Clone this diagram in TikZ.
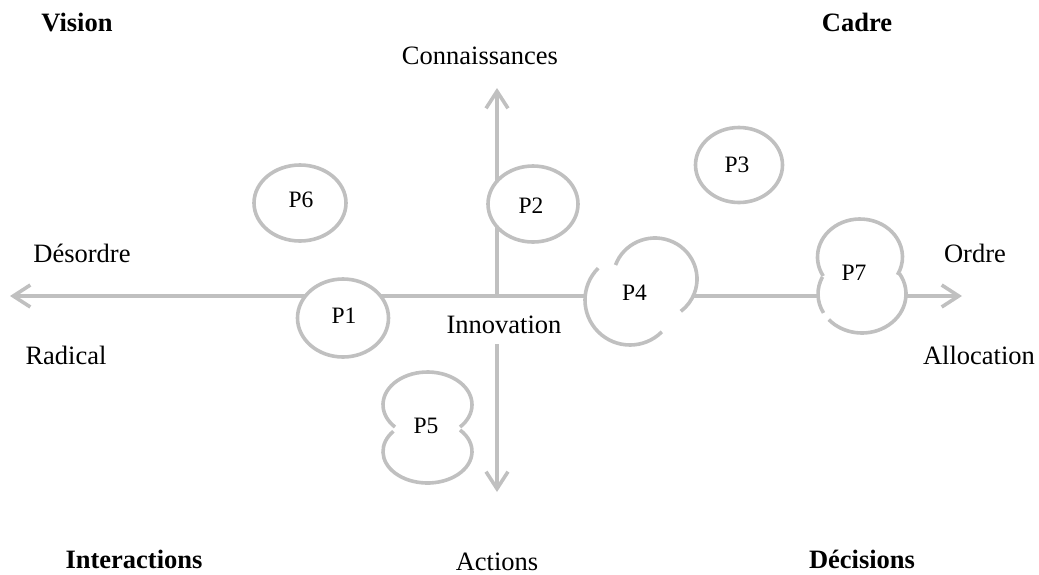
\documentclass[tikz,border=0pt]{standalone}
\usepackage{fontspec}
\setmainfont{Liberation Serif}
\usetikzlibrary{arrows.meta}
\definecolor{axisgray}{RGB}{192,192,192}
\begin{document}
\begin{tikzpicture}[x=1pt,y=-1pt,
  axisline/.style={draw=axisgray, line width=3.6pt, -{Straight Barb[length=17pt,width=22pt]}},
  blob/.style={draw=axisgray, line width=3.6pt, fill=white},
  lobe/.style={draw=axisgray, line width=3.6pt},
  lbl/.style={font=\fontsize{26.5pt}{30pt}\selectfont, anchor=base, inner sep=0pt},
  blbl/.style={font=\fontsize{26.5pt}{30pt}\selectfont\bfseries, anchor=base, inner sep=0pt},
  plbl/.style={font=\fontsize{23.5pt}{27pt}\selectfont, anchor=base, inner sep=0pt}]
\useasboundingbox (0,0) rectangle (1039,574);
% axes
\coordinate (O) at (497,296);
\coordinate (W) at (10,296);
\coordinate (E) at (962,296);
\coordinate (N) at (497,88);
\coordinate (Sb) at (497,344);
\coordinate (S) at (497,492);
\draw[axisline] (O) -- (W);
\draw[axisline] (O) -- (E);
\draw[axisline] (O) -- (N);
\draw[axisline] (Sb) -- (S);
% simple ellipses
\draw[blob] (343,318) ellipse [x radius=45.5, y radius=39];
\draw[blob] (300,203) ellipse [x radius=46, y radius=38];
\draw[blob] (533,204) ellipse [x radius=45, y radius=38];
\draw[blob] (739,165) ellipse [x radius=43.5, y radius=37.5];
% P4 : two overlapping lobes
\coordinate (p4a) at (655,279);
\coordinate (p4b) at (630,300);
\fill[white] (p4a) ellipse [x radius=42, y radius=41];
\fill[white] (p4b) ellipse [x radius=45, y radius=45];
\draw[lobe] (p4a) ++(200:42 and 41) arc[start angle=200, end angle=412, x radius=42, y radius=41];
\draw[lobe] (p4b) ++(225:45 and 45) arc[start angle=225, end angle=45, x radius=45, y radius=45];
% P7 : two stacked lobes
\coordinate (p7a) at (860,257);
\coordinate (p7b) at (862,294);
\fill[white] (p7a) ellipse [x radius=42.5, y radius=38];
\fill[white] (p7b) ellipse [x radius=44, y radius=39];
\draw[lobe] (p7a) ++(150:42.5 and 38) arc[start angle=150, end angle=388, x radius=42.5, y radius=38];
\draw[lobe] (p7b) ++(-31.5:44 and 39) arc[start angle=-31.5, end angle=139, x radius=44, y radius=39];
\draw[lobe] (p7b) ++(151:44 and 39) arc[start angle=151, end angle=206, x radius=44, y radius=39];
% P5 : two stacked lobes
\coordinate (p5a) at (427.5,404.7);
\coordinate (p5b) at (427.5,451.5);
\fill[white] (p5a) ellipse [x radius=44.5, y radius=32.7];
\fill[white] (p5b) ellipse [x radius=44.5, y radius=31.5];
\draw[lobe] (p5a) ++(137:44.5 and 32.7) arc[start angle=137, end angle=403, x radius=44.5, y radius=32.7];
\draw[lobe] (p5b) ++(-43:44.5 and 31.5) arc[start angle=-43, end angle=220, x radius=44.5, y radius=31.5];
% P labels
\node[plbl] (p1) at (344,323) {P1};
\node[plbl] (p6) at (301,207) {P6};
\node[plbl] (p2) at (531,213) {P2};
\node[plbl] (p3) at (737,172) {P3};
\node[plbl] (p4) at (634.5,300) {P4};
\node[plbl] (p7) at (854,280) {P7};
\node[plbl] (p5) at (426,433) {P5};
% labels
\node[blbl] (vision) at (77,31) {Vision};
\node[blbl] (cadre) at (857,31) {Cadre};
\node[blbl] (inter) at (134,568) {Interactions};
\node[blbl] (decis) at (862,568) {Décisions};
\node[lbl] (conn) at (480,64) {Connaissances};
\node[lbl] (deso) at (82,262) {Désordre};
\node[lbl] (ordre) at (975,262) {Ordre};
\node[lbl] (radical) at (66,364) {Radical};
\node[lbl] (alloc) at (979,364) {Allocation};
\node[lbl] (innov) at (504,333) {Innovation};
\node[lbl] (actions) at (497,570) {Actions};
\end{tikzpicture}
\end{document}
